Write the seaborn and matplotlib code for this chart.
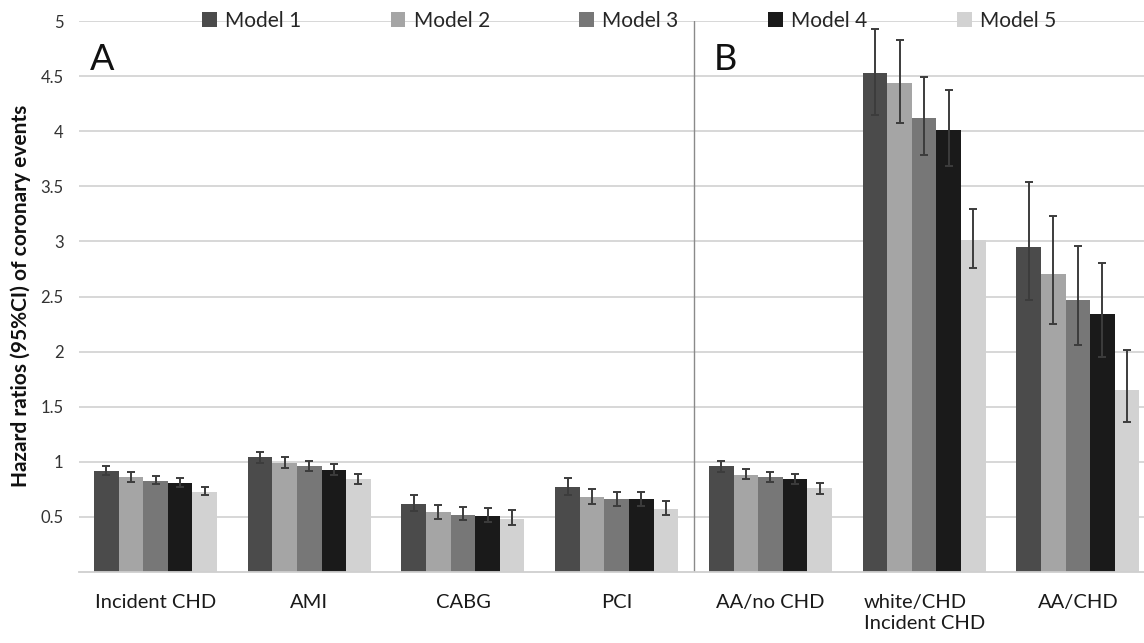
import matplotlib
matplotlib.use("Agg")
import matplotlib.pyplot as plt
import seaborn as sns
import pandas as pd
import numpy as np

# Outcome categories (panel A: all participants, panel B: race / CHD groups)
categories = ["Incident CHD", "AMI", "CABG", "PCI", "AA/no CHD",
              "white/CHD\nIncident CHD", "AA/CHD"]
models = ["Model 1", "Model 2", "Model 3", "Model 4", "Model 5"]

# Hazard ratios per model
hr_model1 = [0.92, 1.04, 0.62, 0.77, 0.96, 4.53, 2.95]
hr_model2 = [0.86, 0.99, 0.54, 0.68, 0.88, 4.44, 2.70]
hr_model3 = [0.83, 0.96, 0.52, 0.66, 0.86, 4.12, 2.47]
hr_model4 = [0.81, 0.93, 0.51, 0.66, 0.84, 4.01, 2.34]
hr_model5 = [0.73, 0.84, 0.48, 0.57, 0.76, 3.01, 1.65]

# Lower bounds of 95% CI
lo_model1 = [0.88, 0.99, 0.55, 0.70, 0.91, 4.15, 2.47]
lo_model2 = [0.815, 0.94, 0.48, 0.62, 0.84, 4.07, 2.25]
lo_model3 = [0.80, 0.92, 0.47, 0.60, 0.82, 3.78, 2.06]
lo_model4 = [0.775, 0.88, 0.45, 0.60, 0.80, 3.68, 1.95]
lo_model5 = [0.70, 0.80, 0.43, 0.52, 0.71, 2.76, 1.36]

# Upper bounds of 95% CI
hi_model1 = [0.965, 1.09, 0.70, 0.85, 1.01, 4.93, 3.54]
hi_model2 = [0.905, 1.04, 0.61, 0.75, 0.935, 4.83, 3.23]
hi_model3 = [0.875, 1.01, 0.59, 0.73, 0.91, 4.49, 2.96]
hi_model4 = [0.85, 0.98, 0.58, 0.73, 0.885, 4.37, 2.80]
hi_model5 = [0.775, 0.89, 0.56, 0.64, 0.805, 3.29, 2.01]

y_ticks = [0.5, 1, 1.5, 2, 2.5, 3, 3.5, 4, 4.5, 5]
y_tick_labels = ["0.5", "1", "1.5", "2", "2.5", "3", "3.5", "4", "4.5", "5"]

hr = [hr_model1, hr_model2, hr_model3, hr_model4, hr_model5]
lo = [lo_model1, lo_model2, lo_model3, lo_model4, lo_model5]
hi = [hi_model1, hi_model2, hi_model3, hi_model4, hi_model5]

rows = []
for m, vals in zip(models, hr):
    for c, v in zip(categories, vals):
        rows.append({"category": c, "model": m, "hr": v})
df = pd.DataFrame(rows)

palette = {"Model 1": "#4b4b4b", "Model 2": "#a5a5a5", "Model 3": "#777777",
           "Model 4": "#1a1a1a", "Model 5": "#d2d2d2"}

sns.set_theme(style="white")
plt.rcParams["font.family"] = ["Lato", "DejaVu Sans"]

fig = plt.figure(figsize=(11.44, 6.43), dpi=100)
ax = fig.add_axes([78.7 / 1144, 71 / 643, 1076 / 1144, 551 / 643])

sns.barplot(data=df, x="category", y="hr", hue="model", order=categories,
            hue_order=models, palette=palette, saturation=1, width=0.8,
            linewidth=0, errorbar=None, ax=ax)

# 95% CI whiskers drawn at each bar's centre
bar_containers = list(ax.containers)
for k, cont in enumerate(bar_containers):
    xs = [p.get_x() + p.get_width() / 2 for p in cont.patches]
    vals = np.array(hr[k])
    yerr = np.vstack([vals - np.array(lo[k]), np.array(hi[k]) - vals])
    ax.errorbar(xs, vals, yerr=yerr, fmt="none", ecolor="#3c3c3c",
                elinewidth=1.4, capsize=3, capthick=1.4, zorder=3)

ax.set_xlim(-0.5, 6.5)
ax.set_ylim(0, 5)
ax.set_yticks(y_ticks)
ax.set_yticklabels(y_tick_labels)
ax.yaxis.grid(True, color="#d4d4d4", linewidth=1.3)
ax.set_axisbelow(True)
for s in ["left", "right", "top"]:
    ax.spines[s].set_visible(False)
ax.spines["bottom"].set_color("#cfcfcf")
ax.spines["bottom"].set_linewidth(1.3)
ax.tick_params(axis="x", length=0, pad=16, labelsize=14.5, labelcolor="#1a1a1a")
ax.tick_params(axis="y", length=0, pad=11, labelsize=12, labelcolor="#333333")
for lab in ax.get_xticklabels():
    lab.set_multialignment("left")
    lab.set_linespacing(1.25)
ax.set_xlabel("")
ax.set_ylabel("")

# Panel separator
ax.axvline(3.5, color="#8a8a8a", linewidth=1.0, zorder=1)

ax.text(-0.43, 4.65, "A", fontsize=26, va="center", ha="left", color="#111111")
ax.text(3.63, 4.65, "B", fontsize=26, va="center", ha="left", color="#111111")

fig.text(21 / 1144, 1 - 296 / 643, "Hazard ratios (95%CI) of coronary events",
         rotation=90, ha="center", va="center", fontsize=15,
         fontweight="bold", color="#111111")

handles, labels = ax.get_legend_handles_labels()
if ax.get_legend() is not None:
    ax.get_legend().remove()
ax.legend(handles[:5], labels[:5], ncol=5, loc="center",
          bbox_to_anchor=((629 - 78.7) / 1076, 1.0), frameon=False,
          fontsize=15, handlelength=0.7, handleheight=0.7,
          handletextpad=0.4, columnspacing=4.3, borderaxespad=0)

fig.savefig("out.png", dpi=100, facecolor="white")
